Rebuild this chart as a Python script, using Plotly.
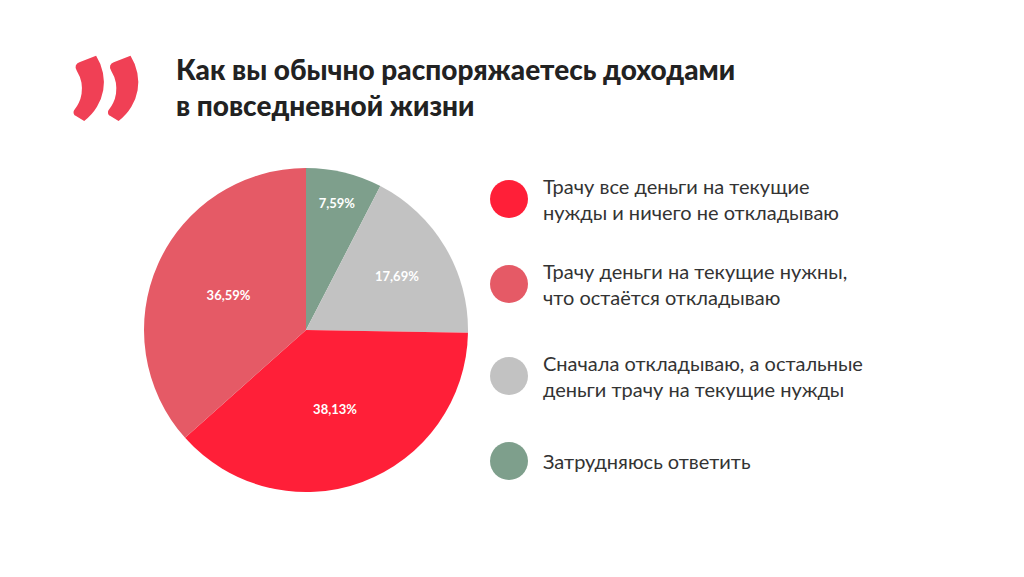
import plotly.graph_objects as go

categories = ["Затрудняюсь ответить",
              "Сначала откладываю, а остальные деньги трачу на текущие нужды",
              "Трачу все деньги на текущие нужды и ничего не откладываю",
              "Трачу деньги на текущие нужны, что остаётся откладываю"]
values = [7.59, 17.69, 38.13, 36.59]
colors = ["#7E9F8C", "#C2C2C2", "#FF1F38", "#E55A66"]
legend_labels = ["Трачу все деньги на текущие<br>нужды и ничего не откладываю",
                 "Трачу деньги на текущие нужны,<br>что остаётся откладываю",
                 "Сначала откладываю, а остальные<br>деньги трачу на текущие нужды",
                 "Затрудняюсь ответить"]
legend_colors = ["#FF1F38", "#E55A66", "#C2C2C2", "#7E9F8C"]
legend_y = [191, 276, 368, 453]
texts = [f"{v:.2f}%".replace(".", ",") for v in values]

W, H = 1024, 577
fig = go.Figure(go.Pie(
    labels=categories, values=values, text=texts, textinfo="text",
    marker=dict(colors=colors, line=dict(color="white", width=0)),
    sort=False, direction="clockwise", rotation=0,
    textfont=dict(family="Lato", size=13, color="white", weight="bold"),
    insidetextorientation="horizontal", showlegend=False,
    domain=dict(x=[136/W, 460/W], y=[1-484/H, 1-160/H]), hoverinfo="none"))

ann = [dict(text="Как вы обычно распоряжаетесь доходами<br>в повседневной жизни",
            x=166/W, y=1-42/H, xref="paper", yref="paper", xanchor="left", yanchor="top",
            align="left", showarrow=False,
            font=dict(family="Lato", size=28, color="#222", weight=900)),
       dict(text="”", x=56/W, y=1-4/H, xref="paper", yref="paper", xanchor="left", yanchor="top",
            showarrow=False, font=dict(family="Lato", size=200, color="#F04055", weight=900))]
shapes = []
for lab, c, y in zip(legend_labels, legend_colors, legend_y):
    shapes.append(dict(type="circle", xref="paper", yref="paper",
                       x0=482/W, x1=520/W, y0=1-(y+19)/H, y1=1-(y-19)/H,
                       fillcolor=c, line=dict(width=0)))
    ann.append(dict(text=lab, x=533/W, y=1-y/H, xref="paper", yref="paper",
                    xanchor="left", yanchor="middle", align="left", showarrow=False,
                    font=dict(family="Lato", size=20, color="#333")))
fig.update_layout(width=W, height=H, margin=dict(l=0, r=0, t=0, b=0),
                  paper_bgcolor="white", annotations=ann, shapes=shapes)
fig.write_html("out.html")
